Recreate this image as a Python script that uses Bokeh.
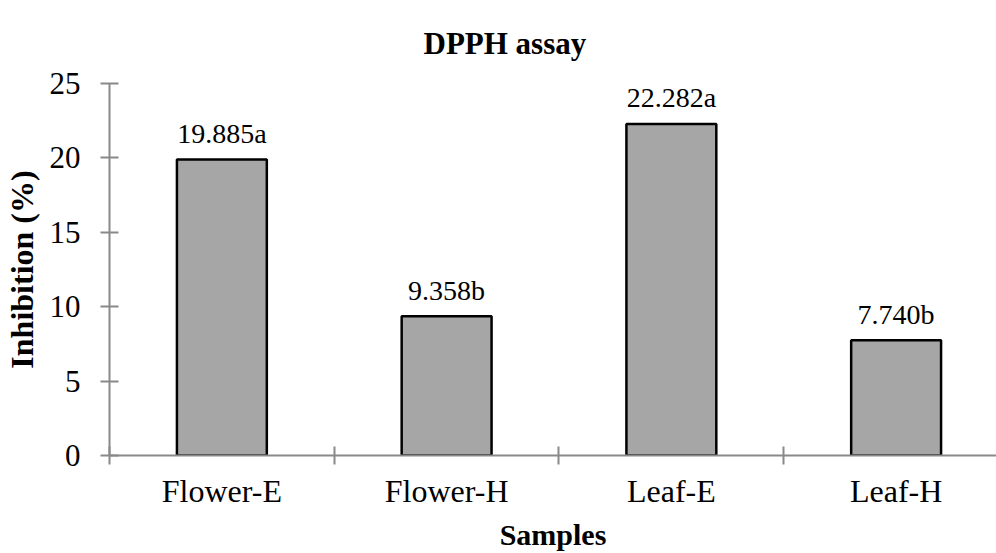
from bokeh.plotting import figure
from bokeh.models import ColumnDataSource, Range1d, FixedTicker, LinearAxis, Title
from bokeh.core.properties import value
from bokeh.embed import file_html
from bokeh.resources import INLINE

categories = ["Flower-E", "Flower-H", "Leaf-E", "Leaf-H"]
values = [19.885, 9.358, 22.282, 7.740]
letters = ["a", "b", "a", "b"]
y_ticks = [0, 5, 10, 15, 20, 25]

xs = [i + 0.5 for i in range(len(categories))]
labels = [f"{v:.3f}{l}" for v, l in zip(values, letters)]
src = ColumnDataSource(dict(x=xs, top=values, label=labels))

SERIF = "Liberation Serif"
AXIS_COLOR = "#898989"

p = figure(width=996, height=553, output_backend="svg", toolbar_location=None,
           x_range=Range1d(0, 888 / 225), y_range=Range1d(0, 25),
           x_axis_location=None, y_axis_location=None,
           min_border_left=108, min_border_right=0, min_border_top=83, min_border_bottom=0)
p.outline_line_color = None
p.xgrid.visible = False
p.ygrid.visible = False
p.background_fill_color = "white"

p.vbar(x="x", top="top", width=0.4, bottom=0, source=src,
       fill_color="#A6A6A6", line_color="black", line_width=2.5)
p.text(x="x", y="top", text="label", source=src, text_align="center",
       text_baseline="alphabetic", y_offset=-26, text_font_size="28px",
       text_font=value(SERIF), text_color="black")

# y axis
ya = LinearAxis(ticker=FixedTicker(ticks=y_ticks, minor_ticks=[]))
ya.axis_line_color = AXIS_COLOR
ya.axis_line_width = 2
ya.major_tick_line_color = AXIS_COLOR
ya.major_tick_line_width = 2
ya.major_tick_in = 9
ya.major_tick_out = 9
ya.minor_tick_line_color = None
ya.major_label_text_font = SERIF
ya.major_label_text_font_size = "31px"
ya.major_label_text_color = "black"
ya.major_label_standoff = 20
ya.axis_label = "Inhibition (%)"
ya.axis_label_text_font = SERIF
ya.axis_label_text_font_style = "bold"
ya.axis_label_text_font_size = "32px"
ya.axis_label_text_color = "black"
ya.axis_label_standoff = 7
p.add_layout(ya, "left")

# x axis: boundary ticks
bounds = list(range(len(categories) + 1))
xa = LinearAxis(ticker=FixedTicker(ticks=bounds, minor_ticks=[]))
xa.major_label_overrides = {b: "" for b in bounds}
xa.axis_line_color = AXIS_COLOR
xa.axis_line_width = 2
xa.major_tick_line_color = AXIS_COLOR
xa.major_tick_line_width = 2
xa.major_tick_in = 9
xa.major_tick_out = 9
xa.minor_tick_line_color = None
xa.major_label_text_font_size = "1px"
xa.major_label_standoff = 0
p.add_layout(xa, "below")

# x axis: category labels
xl = LinearAxis(ticker=FixedTicker(ticks=xs, minor_ticks=[]))
xl.major_label_overrides = {x: c for x, c in zip(xs, categories)}
xl.axis_line_color = None
xl.major_tick_line_color = None
xl.minor_tick_line_color = None
xl.major_tick_in = 0
xl.major_tick_out = 0
xl.major_label_text_font = SERIF
xl.major_label_text_font_size = "32px"
xl.major_label_text_color = "black"
xl.major_label_standoff = 8
xl.axis_label = "Samples"
xl.axis_label_text_font = SERIF
xl.axis_label_text_font_style = "bold"
xl.axis_label_text_font_size = "30px"
xl.axis_label_text_color = "black"
xl.axis_label_standoff = 6
p.add_layout(xl, "below")

t = Title(text="DPPH assay", align="left", text_font=SERIF, text_font_style="bold",
          text_font_size="31px", text_color="black", offset=314, standoff=45)
p.add_layout(t, "above")

open("out.html", "w").write(file_html(p, INLINE))
